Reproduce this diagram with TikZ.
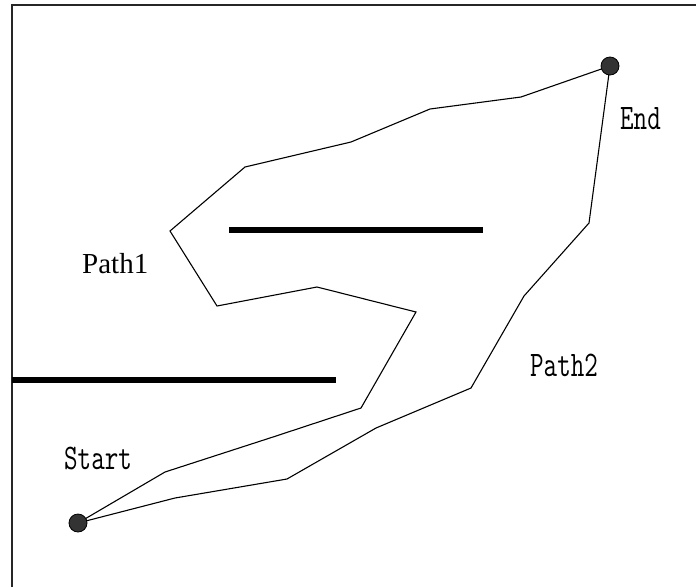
\documentclass[tikz,border=0pt]{standalone}
\usepackage{fontspec}
\setmainfont{Liberation Serif}
\newcommand{\cnm}[1]{\scalebox{0.73}[1]{\ttfamily\fontsize{36}{36}\selectfont #1}}
\begin{document}
\begin{tikzpicture}[x=1pt,y=-1pt,
  pathline/.style={line width=1.1pt,line join=miter},
  wall/.style={line width=6.5pt},
  dotnode/.style={circle,draw=black,fill=black!80,line width=0.8pt,minimum size=18pt,inner sep=0pt},
  monolabel/.style={anchor=base west,inner sep=0pt},
  seriflabel/.style={anchor=base west,inner sep=0pt,font=\fontsize{29}{29}\selectfont}]
\useasboundingbox (0,0) rectangle (696,587);
% frame
\draw[line width=1.6pt,black!85] (12,587) -- (12,5) -- (696,5);
% walls
\draw[wall] (229,230) -- (483,230);
\draw[wall] (12,380) -- (336,380);
% endpoints
\coordinate (S) at (78,523);
\coordinate (E) at (610,66);
% path 1
\draw[pathline] (S) -- (165,472) -- (273,437) -- (361,408) -- (416,312) -- (317,287)
  -- (217,306) -- (170,231) -- (245,167) -- (351,142) -- (430,109) -- (521,97) -- (E);
% path 2
\draw[pathline] (S) -- (175,498) -- (287,479) -- (376,428) -- (471,388) -- (524,296)
  -- (589,223) -- (E);
\node[dotnode] (start) at (S) {};
\node[dotnode] (end) at (E) {};
% labels
\node[monolabel] (lstart) at (64,469) {\cnm{Start}};
\node[monolabel] (lend) at (620,129) {\cnm{End}};
\node[seriflabel] (lp1) at (82,273) {Path1};
\node[monolabel] (lp2) at (530,376) {\cnm{Path2}};
\end{tikzpicture}
\end{document}
